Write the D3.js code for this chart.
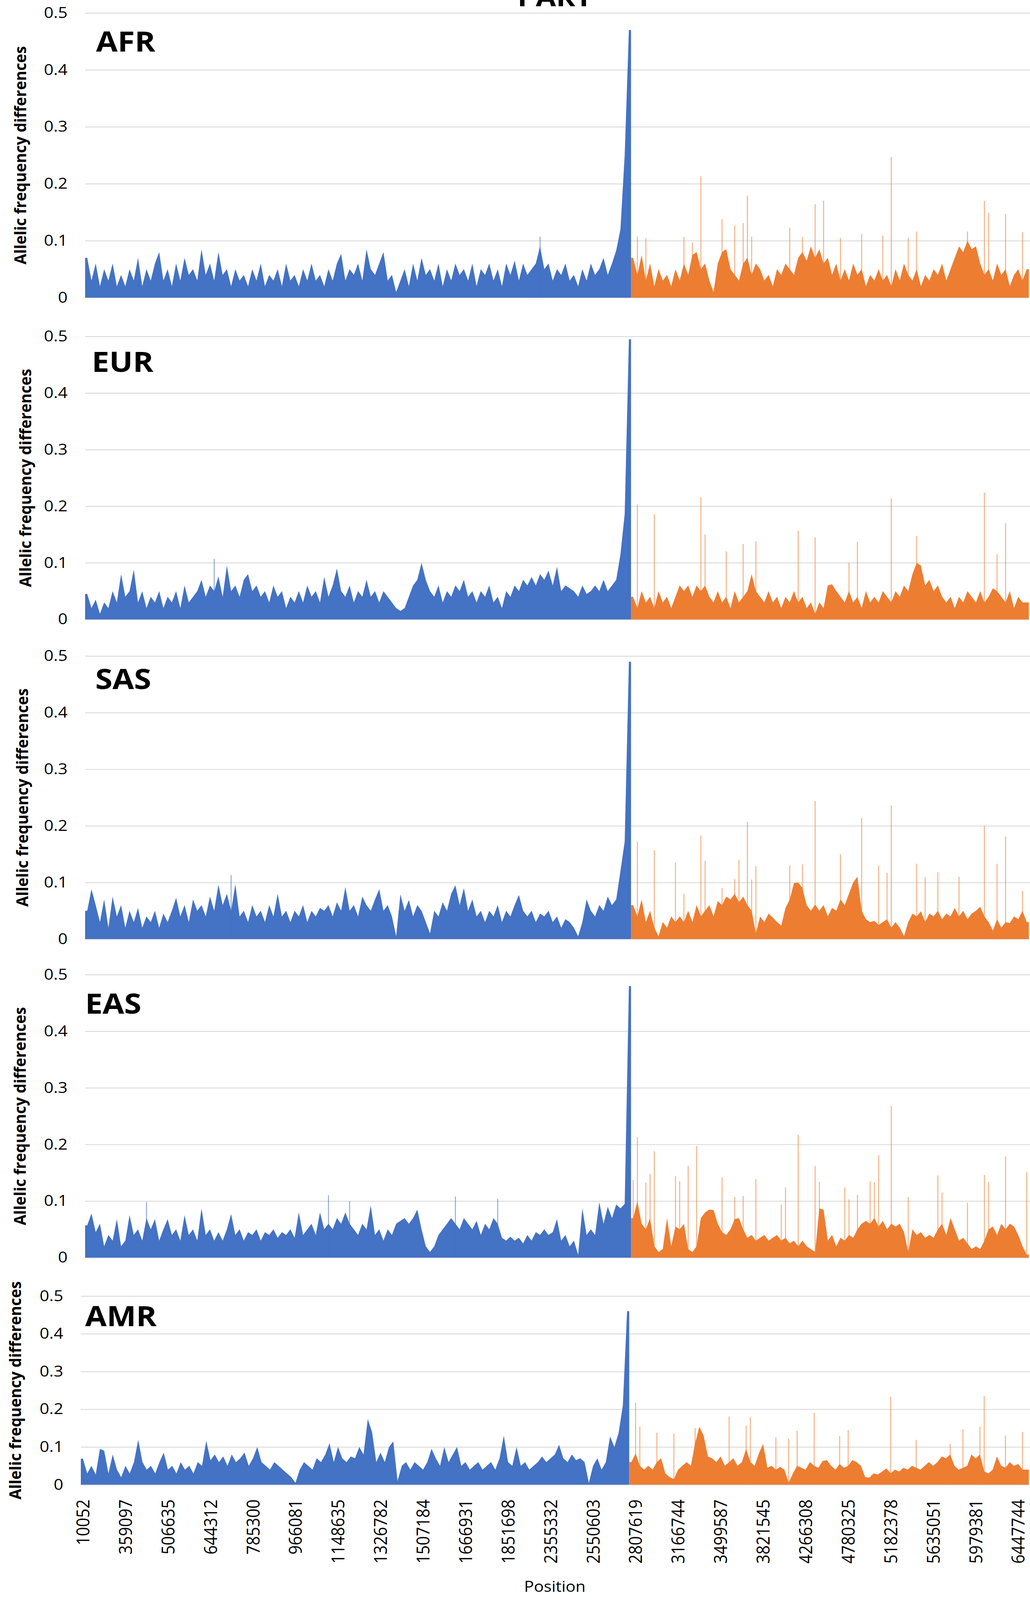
<!DOCTYPE html>
<html>
<head>
<meta charset="utf-8">
<script src="https://cdn.jsdelivr.net/npm/d3@7"></script>
<style>
  html, body { margin: 0; padding: 0; background: #fff; overflow: hidden; }
  svg { display: block; }
  text { font-family: 'Open Sans', 'DejaVu Sans', sans-serif; fill: #000; }
</style>
</head>
<body>
<svg id="chart"></svg>
<script>
(function(){
    'use strict';

    /*******************************************************************
     *                              DATA                               *
     *******************************************************************/

    //Position labels shown on the category axis (one every 10 categories)
    var positionLabels = ['10052', '359097', '506635', '644312', '785300', '966081',
        '1148635', '1326782', '1507184', '1666931', '1851698', '2355332', '2550603',
        '2807619', '3166744', '3499587', '3821545', '4266308', '4780325', '5182378',
        '5635051', '5979381', '6447744'];
    var labelEvery = 10;
    var yTicks = [0, 0.1, 0.2, 0.3, 0.4, 0.5];

    //AFR
    var afrBlue = [
        0.07, 0.03, 0.06, 0.02, 0.05, 0.03, 0.06, 0.02, 0.04, 0.02,
        0.05, 0.03, 0.07, 0.02, 0.05, 0.03, 0.06, 0.08, 0.03, 0.05,
        0.02, 0.06, 0.03, 0.07, 0.04, 0.05, 0.03, 0.085, 0.04, 0.06,
        0.03, 0.08, 0.04, 0.05, 0.02, 0.05, 0.03, 0.04, 0.02, 0.05,
        0.03, 0.06, 0.02, 0.04, 0.03, 0.05, 0.02, 0.06, 0.03, 0.04,
        0.02, 0.05, 0.03, 0.06, 0.03, 0.04, 0.02, 0.05, 0.03, 0.06,
        0.077, 0.03, 0.05, 0.04, 0.06, 0.03, 0.085, 0.05, 0.04, 0.06,
        0.08, 0.03, 0.04, 0.01, 0.03, 0.05, 0.02, 0.06, 0.03, 0.07,
        0.04, 0.05, 0.03, 0.06, 0.02, 0.05, 0.03, 0.06, 0.04, 0.05,
        0.03, 0.06, 0.02, 0.05, 0.04, 0.06, 0.03, 0.05, 0.02, 0.06,
        0.04, 0.065, 0.03, 0.06, 0.04, 0.05, 0.06, 0.09, 0.05, 0.06,
        0.03, 0.05, 0.04, 0.06, 0.03, 0.04, 0.02, 0.05, 0.03, 0.06,
        0.04, 0.05, 0.07, 0.04, 0.06, 0.083, 0.12, 0.25, 0.47];
    var afrOrange = [
        0.07, 0.04, 0.075, 0.03, 0.06, 0.02, 0.05, 0.03, 0.04, 0.02,
        0.05, 0.03, 0.06, 0.04, 0.075, 0.08, 0.05, 0.06, 0.03, 0.01,
        0.06, 0.08, 0.085, 0.05, 0.04, 0.03, 0.06, 0.07, 0.04, 0.06,
        0.05, 0.03, 0.04, 0.02, 0.05, 0.04, 0.06, 0.05, 0.04, 0.07,
        0.08, 0.065, 0.09, 0.07, 0.085, 0.06, 0.07, 0.04, 0.06, 0.03,
        0.05, 0.03, 0.06, 0.04, 0.05, 0.02, 0.04, 0.03, 0.05, 0.03,
        0.04, 0.02, 0.05, 0.03, 0.06, 0.04, 0.03, 0.05, 0.02, 0.04,
        0.03, 0.05, 0.04, 0.06, 0.03, 0.05, 0.07, 0.09, 0.08, 0.1,
        0.085, 0.09, 0.06, 0.04, 0.05, 0.03, 0.06, 0.04, 0.05, 0.02,
        0.04, 0.05, 0.03, 0.05];
    //Isolated thin spikes: [category index, value]
    var afrSpikes = [[107, 0.107],
        [130, 0.107], [132, 0.105], [141, 0.107], [143, 0.097], [145, 0.213],
        [150, 0.138], [153, 0.127], [155, 0.131], [156, 0.179], [157, 0.107],
        [166, 0.123], [169, 0.107], [172, 0.164], [174, 0.17], [178, 0.105],
        [183, 0.112], [188, 0.109], [190, 0.247], [194, 0.105], [196, 0.116],
        [208, 0.116], [212, 0.17], [213, 0.149], [217, 0.147], [221, 0.115]];

    //EUR
    var eurBlue = [
        0.045, 0.02, 0.035, 0.01, 0.03, 0.02, 0.05, 0.03, 0.08, 0.04,
        0.05, 0.088, 0.03, 0.05, 0.02, 0.04, 0.03, 0.05, 0.02, 0.04,
        0.03, 0.05, 0.02, 0.06, 0.03, 0.04, 0.05, 0.07, 0.04, 0.06,
        0.05, 0.076, 0.04, 0.095, 0.05, 0.06, 0.04, 0.07, 0.08, 0.05,
        0.06, 0.04, 0.05, 0.03, 0.06, 0.04, 0.05, 0.02, 0.04, 0.03,
        0.05, 0.03, 0.06, 0.04, 0.05, 0.03, 0.075, 0.04, 0.06, 0.09,
        0.05, 0.04, 0.06, 0.03, 0.05, 0.04, 0.07, 0.04, 0.05, 0.03,
        0.05, 0.04, 0.03, 0.02, 0.015, 0.02, 0.04, 0.06, 0.07, 0.1,
        0.07, 0.05, 0.04, 0.06, 0.03, 0.05, 0.04, 0.06, 0.05, 0.07,
        0.04, 0.05, 0.03, 0.05, 0.04, 0.06, 0.03, 0.04, 0.02, 0.05,
        0.04, 0.06, 0.05, 0.07, 0.06, 0.075, 0.06, 0.08, 0.07, 0.086,
        0.06, 0.093, 0.05, 0.06, 0.055, 0.05, 0.04, 0.06, 0.045, 0.05,
        0.06, 0.05, 0.07, 0.05, 0.06, 0.07, 0.115, 0.186, 0.495];
    var eurOrange = [
        0.04, 0.02, 0.05, 0.03, 0.04, 0.02, 0.05, 0.03, 0.04, 0.02,
        0.04, 0.06, 0.05, 0.06, 0.04, 0.06, 0.05, 0.06, 0.04, 0.03,
        0.05, 0.03, 0.04, 0.02, 0.05, 0.03, 0.04, 0.05, 0.08, 0.05,
        0.04, 0.03, 0.05, 0.03, 0.04, 0.02, 0.04, 0.03, 0.05, 0.03,
        0.04, 0.02, 0.03, 0.01, 0.03, 0.02, 0.06, 0.062, 0.05, 0.04,
        0.03, 0.05, 0.03, 0.04, 0.02, 0.05, 0.03, 0.04, 0.03, 0.05,
        0.04, 0.03, 0.05, 0.04, 0.06, 0.05, 0.08, 0.1, 0.095, 0.06,
        0.07, 0.05, 0.06, 0.04, 0.03, 0.04, 0.02, 0.04, 0.03, 0.05,
        0.04, 0.03, 0.05, 0.03, 0.04, 0.055, 0.05, 0.04, 0.03, 0.05,
        0.02, 0.04, 0.03, 0.03];
    var eurSpikes = [[30, 0.107],
        [130, 0.203], [134, 0.186], [145, 0.216], [146, 0.15], [151, 0.12],
        [155, 0.133], [158, 0.138], [168, 0.157], [172, 0.145], [180, 0.1],
        [182, 0.137], [190, 0.214], [196, 0.147], [212, 0.224], [215, 0.115],
        [217, 0.17]];

    //SAS
    var sasBlue = [
        0.05, 0.088, 0.06, 0.03, 0.07, 0.02, 0.075, 0.04, 0.06, 0.02,
        0.05, 0.03, 0.055, 0.02, 0.04, 0.03, 0.05, 0.02, 0.045, 0.03,
        0.05, 0.073, 0.04, 0.06, 0.03, 0.07, 0.05, 0.06, 0.04, 0.075,
        0.05, 0.096, 0.06, 0.08, 0.05, 0.097, 0.04, 0.05, 0.03, 0.06,
        0.04, 0.05, 0.03, 0.06, 0.04, 0.08, 0.04, 0.05, 0.03, 0.05,
        0.04, 0.06, 0.03, 0.05, 0.04, 0.055, 0.05, 0.06, 0.04, 0.065,
        0.05, 0.092, 0.05, 0.06, 0.04, 0.075, 0.06, 0.05, 0.07, 0.088,
        0.05, 0.06, 0.04, 0.005, 0.079, 0.05, 0.069, 0.04, 0.06, 0.05,
        0.03, 0.01, 0.05, 0.04, 0.065, 0.05, 0.08, 0.095, 0.06, 0.09,
        0.05, 0.07, 0.04, 0.05, 0.03, 0.05, 0.04, 0.06, 0.03, 0.05,
        0.04, 0.06, 0.078, 0.05, 0.04, 0.05, 0.03, 0.045, 0.04, 0.05,
        0.03, 0.04, 0.02, 0.035, 0.03, 0.02, 0.005, 0.03, 0.07, 0.05,
        0.04, 0.06, 0.05, 0.075, 0.06, 0.07, 0.12, 0.172, 0.49];
    var sasOrange = [
        0.06, 0.04, 0.07, 0.03, 0.05, 0.02, 0.005, 0.03, 0.02, 0.04,
        0.03, 0.04, 0.03, 0.05, 0.03, 0.06, 0.04, 0.05, 0.06, 0.04,
        0.067, 0.06, 0.075, 0.07, 0.08, 0.065, 0.075, 0.06, 0.05, 0.01,
        0.04, 0.03, 0.045, 0.038, 0.03, 0.024, 0.055, 0.07, 0.099, 0.1,
        0.09, 0.06, 0.05, 0.061, 0.05, 0.06, 0.04, 0.055, 0.05, 0.07,
        0.06, 0.08, 0.1, 0.11, 0.05, 0.035, 0.03, 0.032, 0.025, 0.03,
        0.035, 0.02, 0.03, 0.02, 0.005, 0.03, 0.045, 0.04, 0.049, 0.03,
        0.045, 0.04, 0.05, 0.035, 0.045, 0.04, 0.055, 0.04, 0.05, 0.035,
        0.045, 0.05, 0.057, 0.04, 0.03, 0.015, 0.035, 0.02, 0.03, 0.028,
        0.04, 0.035, 0.05, 0.03];
    var sasSpikes = [[34, 0.113],
        [130, 0.172], [134, 0.157], [139, 0.135], [141, 0.08], [145, 0.183],
        [146, 0.138], [150, 0.09], [153, 0.106], [154, 0.14], [156, 0.207],
        [157, 0.105], [158, 0.129], [166, 0.13], [169, 0.132], [172, 0.244],
        [178, 0.15], [183, 0.214], [187, 0.13], [189, 0.117], [190, 0.236],
        [196, 0.133], [198, 0.109], [201, 0.118], [206, 0.11], [212, 0.2],
        [215, 0.133], [217, 0.181], [221, 0.085]];

    //EAS
    var easBlue = [
        0.057, 0.078, 0.045, 0.06, 0.02, 0.04, 0.03, 0.068, 0.02, 0.03,
        0.075, 0.04, 0.05, 0.03, 0.07, 0.05, 0.068, 0.03, 0.05, 0.068,
        0.04, 0.05, 0.03, 0.075, 0.04, 0.05, 0.03, 0.087, 0.04, 0.05,
        0.03, 0.045, 0.03, 0.05, 0.077, 0.04, 0.05, 0.03, 0.045, 0.04,
        0.05, 0.03, 0.045, 0.04, 0.05, 0.035, 0.045, 0.04, 0.05, 0.035,
        0.08, 0.04, 0.05, 0.06, 0.04, 0.08, 0.05, 0.06, 0.05, 0.07,
        0.06, 0.08, 0.06, 0.05, 0.04, 0.06, 0.05, 0.092, 0.04, 0.05,
        0.03, 0.05, 0.04, 0.06, 0.065, 0.07, 0.06, 0.07, 0.085, 0.05,
        0.02, 0.01, 0.02, 0.04, 0.05, 0.06, 0.07, 0.06, 0.05, 0.07,
        0.06, 0.05, 0.065, 0.04, 0.06, 0.05, 0.07, 0.06, 0.035, 0.03,
        0.037, 0.03, 0.035, 0.025, 0.04, 0.03, 0.045, 0.04, 0.05, 0.04,
        0.045, 0.068, 0.03, 0.04, 0.02, 0.03, 0.005, 0.087, 0.04, 0.05,
        0.04, 0.098, 0.06, 0.09, 0.07, 0.094, 0.087, 0.095, 0.48];
    var easOrange = [
        0.07, 0.1, 0.06, 0.05, 0.07, 0.02, 0.01, 0.015, 0.07, 0.02,
        0.055, 0.05, 0.06, 0.015, 0.01, 0.02, 0.07, 0.08, 0.085, 0.084,
        0.06, 0.045, 0.04, 0.05, 0.068, 0.07, 0.05, 0.035, 0.04, 0.03,
        0.035, 0.04, 0.03, 0.035, 0.04, 0.03, 0.035, 0.025, 0.03, 0.02,
        0.03, 0.02, 0.015, 0.01, 0.087, 0.085, 0.03, 0.04, 0.02, 0.035,
        0.03, 0.04, 0.035, 0.05, 0.06, 0.065, 0.06, 0.07, 0.055, 0.065,
        0.05, 0.06, 0.055, 0.06, 0.045, 0.01, 0.05, 0.04, 0.045, 0.035,
        0.04, 0.035, 0.05, 0.06, 0.04, 0.07, 0.05, 0.03, 0.035, 0.025,
        0.015, 0.02, 0.015, 0.03, 0.05, 0.055, 0.04, 0.06, 0.05, 0.06,
        0.055, 0.04, 0.02, 0.005];
    var easSpikes = [[14, 0.098], [57, 0.11], [62, 0.1], [87, 0.108], [97, 0.104],
        [129, 0.137], [130, 0.213], [132, 0.133], [133, 0.148], [134, 0.188],
        [139, 0.144], [140, 0.135], [142, 0.162], [144, 0.197], [150, 0.142],
        [153, 0.107], [155, 0.109], [158, 0.139], [164, 0.094], [165, 0.124],
        [168, 0.217], [172, 0.162], [173, 0.134], [179, 0.124], [180, 0.103],
        [182, 0.111], [185, 0.135], [186, 0.133], [187, 0.181], [190, 0.268],
        [194, 0.107], [201, 0.145], [202, 0.115], [208, 0.097], [212, 0.146],
        [213, 0.134], [217, 0.179], [222, 0.151]];

    //AMR
    var amrBlue = [
        0.069, 0.03, 0.05, 0.027, 0.095, 0.09, 0.03, 0.08, 0.04, 0.02,
        0.05, 0.03, 0.06, 0.119, 0.06, 0.04, 0.05, 0.03, 0.06, 0.085,
        0.04, 0.05, 0.03, 0.06, 0.04, 0.05, 0.03, 0.06, 0.05, 0.116,
        0.065, 0.08, 0.06, 0.075, 0.05, 0.08, 0.06, 0.07, 0.085, 0.05,
        0.07, 0.1, 0.06, 0.05, 0.04, 0.06, 0.05, 0.04, 0.03, 0.02,
        0.005, 0.04, 0.06, 0.05, 0.04, 0.07, 0.06, 0.08, 0.11, 0.06,
        0.1, 0.07, 0.06, 0.075, 0.07, 0.1, 0.08, 0.174, 0.14, 0.06,
        0.085, 0.06, 0.1, 0.115, 0.01, 0.05, 0.06, 0.04, 0.06, 0.05,
        0.04, 0.06, 0.095, 0.07, 0.05, 0.1, 0.06, 0.08, 0.1, 0.05,
        0.06, 0.04, 0.05, 0.06, 0.04, 0.05, 0.06, 0.04, 0.07, 0.13,
        0.06, 0.05, 0.1, 0.05, 0.06, 0.04, 0.05, 0.06, 0.075, 0.06,
        0.07, 0.08, 0.106, 0.07, 0.06, 0.08, 0.065, 0.07, 0.06, 0.005,
        0.05, 0.07, 0.04, 0.06, 0.128, 0.1, 0.137, 0.21, 0.46];
    var amrOrange = [
        0.06, 0.083, 0.05, 0.04, 0.05, 0.04, 0.06, 0.07, 0.03, 0.02,
        0.015, 0.04, 0.05, 0.06, 0.05, 0.11, 0.154, 0.13, 0.075, 0.07,
        0.06, 0.075, 0.05, 0.06, 0.07, 0.05, 0.06, 0.095, 0.06, 0.05,
        0.083, 0.108, 0.045, 0.05, 0.04, 0.047, 0.04, 0.005, 0.03, 0.05,
        0.045, 0.04, 0.06, 0.05, 0.045, 0.063, 0.065, 0.05, 0.04, 0.055,
        0.045, 0.05, 0.065, 0.06, 0.05, 0.02, 0.019, 0.03, 0.027, 0.035,
        0.043, 0.03, 0.04, 0.035, 0.045, 0.04, 0.05, 0.045, 0.04, 0.05,
        0.06, 0.05, 0.06, 0.075, 0.07, 0.08, 0.05, 0.04, 0.045, 0.05,
        0.08, 0.07, 0.08, 0.035, 0.03, 0.04, 0.075, 0.05, 0.045, 0.06,
        0.05, 0.055, 0.04, 0.04];
    var amrSpikes = [
        [130, 0.217], [131, 0.154], [135, 0.138], [139, 0.136], [144, 0.15],
        [152, 0.181], [156, 0.156], [157, 0.179], [163, 0.125], [166, 0.122],
        [168, 0.143], [172, 0.191], [178, 0.129], [180, 0.145], [190, 0.233],
        [196, 0.119], [204, 0.108], [207, 0.147], [211, 0.154], [212, 0.235],
        [217, 0.13], [221, 0.14]];

    var populations = [
        { name: 'AFR', blue: afrBlue, orange: afrOrange, spikes: afrSpikes },
        { name: 'EUR', blue: eurBlue, orange: eurOrange, spikes: eurSpikes },
        { name: 'SAS', blue: sasBlue, orange: sasOrange, spikes: sasSpikes },
        { name: 'EAS', blue: easBlue, orange: easOrange, spikes: easSpikes },
        { name: 'AMR', blue: amrBlue, orange: amrOrange, spikes: amrSpikes }
    ];

    /*******************************************************************
     *                             LAYOUT                              *
     *******************************************************************/

    //Drawing frame of the original figure
    var W = 2638, H = 4580;

    //top = 0.5 line, bottom = 0 line
    var panels = [
        { top: 37,   bottom: 852,  left: 218, nameX: 246, nameDy: 111, titleX: 53 },
        { top: 963,  bottom: 1773, left: 218, nameX: 235, nameDy: 102, titleX: 66 },
        { top: 1878, bottom: 2688, left: 218, nameX: 244, nameDy: 95,  titleX: 58 },
        { top: 2790, bottom: 3600, left: 218, nameX: 218, nameDy: 112, titleX: 52 },
        { top: 3710, bottom: 4250, left: 207, nameX: 218, nameDy: 86,  titleX: 40 }
    ];
    var plotRight = 2635;
    var gridRight = 2638;
    var blueColor = '#4472C4';
    var orangeColor = '#ED7D31';

    //The window can be shorter than the figure: fit the whole figure in it
    var svg = d3.select('#chart')
        .attr('width', window.innerWidth || W)
        .attr('height', window.innerHeight || H)
        .attr('viewBox', '0 0 ' + W + ' ' + H)
        .attr('preserveAspectRatio', 'none');

    svg.append('rect')
        .attr('width', W).attr('height', H)
        .attr('fill', '#fff');

    //Chart title, cut off by the top edge as in the figure
    svg.append('text')
        .attr('x', 1421).attr('y', 18)
        .attr('text-anchor', 'middle')
        .style('font-size', '75px')
        .style('font-weight', 700)
        .text('PART');

    populations.forEach(function(pop, i) {
        drawPanel(pop, panels[i], i === populations.length - 1);
    });

    /*******************************************************************
     *                             DRAWING                             *
     *******************************************************************/

    function drawPanel(pop, geo, withXAxis) {
        var nBlue = pop.blue.length;
        var n = nBlue + pop.orange.length;

        var x = d3.scaleLinear()
            .domain([0, n])
            .range([geo.left, plotRight]);

        var y = d3.scaleLinear()
            .domain([0, 0.5])
            .range([geo.bottom, geo.top]);

        var g = svg.append('g').attr('class', 'panel');

        //Gridlines
        var grid = g.append('g')
            .attr('transform', 'translate(' + geo.left + ',0)')
            .call(d3.axisRight(y)
                .tickValues(yTicks)
                .tickSize(gridRight - geo.left)
                .tickFormat(''));
        grid.select('.domain').remove();
        grid.selectAll('line')
            .attr('stroke', '#d9d9d9')
            .attr('stroke-width', 2.5);

        //Y tick labels
        var yAxis = g.append('g')
            .attr('transform', 'translate(' + geo.left + ',0)')
            .call(d3.axisLeft(y)
                .tickValues(yTicks)
                .tickSize(0)
                .tickPadding(45)
                .tickFormat(function(d) { return d === 0 ? '0' : d3.format('.1f')(d); }));
        yAxis.select('.domain').remove();
        yAxis.selectAll('text')
            .attr('fill', '#000')
            .style('font-family', "'Open Sans', sans-serif")
            .style('font-size', '43px');

        //Series areas
        var area = d3.area()
            .x(function(d) { return x(d[0]); })
            .y0(y(0))
            .y1(function(d) { return y(d[1]); });

        g.append('path')
            .attr('d', area(toPoints(pop.blue, 0)))
            .attr('fill', blueColor);

        g.append('path')
            .attr('d', area(toPoints(pop.orange, nBlue)))
            .attr('fill', orangeColor);

        //Thin spikes
        g.selectAll('line.spike')
            .data(pop.spikes)
            .enter()
            .append('line')
            .attr('class', 'spike')
            .attr('x1', function(d) { return x(d[0] + 0.5); })
            .attr('x2', function(d) { return x(d[0] + 0.5); })
            .attr('y1', y(0))
            .attr('y2', function(d) { return y(d[1]); })
            .attr('stroke', function(d) { return d[0] < nBlue ? blueColor : orangeColor; })
            .attr('stroke-width', 2.5)
            .attr('stroke-opacity', 0.6);

        //Population name
        g.append('text')
            .attr('x', geo.nameX)
            .attr('y', geo.top + geo.nameDy)
            .style('font-size', '80px')
            .style('font-weight', 700)
            .text(pop.name);

        //Y axis title
        g.append('text')
            .attr('transform', 'translate(' + geo.titleX + ',' + ((geo.top + geo.bottom) / 2) + ') rotate(-90)')
            .attr('text-anchor', 'middle')
            .attr('dy', '0.35em')
            .attr('textLength', 625)
            .attr('lengthAdjust', 'spacingAndGlyphs')
            .style('font-size', '41px')
            .style('font-weight', 700)
            .text('Allelic frequency differences');

        if (withXAxis) {
            drawXAxis(x, n);
        }
    }

    /**
     * Category axis under the last panel, labels rotated
     */
    function drawXAxis(x, n) {
        var tickIdx = d3.range(0, n, labelEvery).slice(0, positionLabels.length);

        var xAxis = svg.append('g')
            .attr('transform', 'translate(0,4292)')
            .call(d3.axisBottom(x)
                .tickValues(tickIdx.map(function(i) { return i + 0.5; }))
                .tickSize(0)
                .tickFormat(function(d, i) { return positionLabels[i]; }));
        xAxis.select('.domain').remove();
        xAxis.selectAll('text')
            .attr('transform', 'rotate(-90)')
            .attr('x', 0)
            .attr('y', 0)
            .attr('dy', '0.35em')
            .attr('text-anchor', 'end')
            .attr('fill', '#000')
            .style('font-family', "'Open Sans', sans-serif")
            .style('font-size', '46px');

        svg.append('text')
            .attr('x', 1421)
            .attr('y', 4557)
            .attr('text-anchor', 'middle')
            .style('font-size', '42px')
            .text('Position');
    }

    /**
     * Points for one series: band edges at both ends, band centres between
     */
    function toPoints(values, offset) {
        var pts = values.map(function(v, i) { return [offset + i + 0.5, v]; });
        pts.unshift([offset, values[0]]);
        pts.push([offset + values.length, values[values.length - 1]]);
        return pts;
    }
})();
</script>
</body>
</html>
